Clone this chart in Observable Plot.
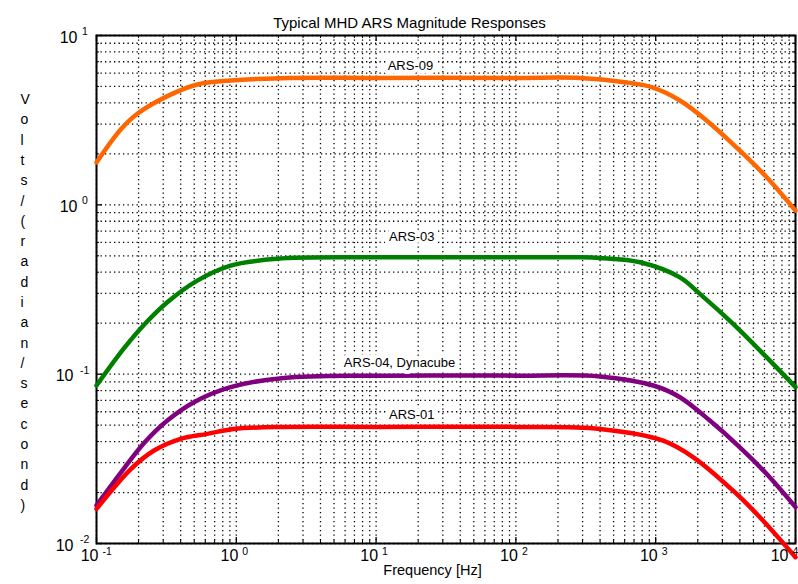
<!DOCTYPE html>
<html>
<head>
<meta charset="utf-8">
<script src="https://cdn.jsdelivr.net/npm/d3@7"></script>
<script src="https://cdn.jsdelivr.net/npm/@observablehq/plot@0.6"></script>
<style>
  html, body { margin: 0; padding: 0; background: #fff; }
  #chart svg { display: block; }
</style>
</head>
<body>
<div id="chart"></div>
<script>
// ---- Data ----
const title = "Typical MHD ARS Magnitude Responses";
const xLabel = "Frequency [Hz]";
const yLabel = "Volts/(radian/second)";

const seriesNames = ["ARS-09", "ARS-03", "ARS-04, Dynacube", "ARS-01"];
const seriesColors = ["#ff6600", "#008000", "#800080", "#ff0000"];

const ars09F = [0.1, 0.15, 0.196, 0.33, 0.526, 0.91, 2.07, 10, 100, 288, 600, 935, 1490, 2310, 4000, 6200, 10000];
const ars09V = [1.78, 2.8, 3.45, 4.43, 5.14, 5.42, 5.6, 5.62, 5.62, 5.62, 5.3, 4.95, 4.13, 3.15, 2.09, 1.46, 0.925];

const ars03F = [0.1, 0.157, 0.219, 0.321, 0.526, 0.91, 1.96, 10, 100, 300, 400, 772, 1490, 2070, 3580, 6200, 10000];
const ars03V = [0.0857, 0.142, 0.196, 0.266, 0.357, 0.438, 0.48, 0.49, 0.49, 0.49, 0.485, 0.458, 0.373, 0.298, 0.198, 0.126, 0.0838];

const ars04F = [0.1, 0.157, 0.219, 0.321, 0.498, 0.91, 2.19, 10, 100, 400, 961, 1490, 2440, 4000, 6200, 10000];
const ars04V = [0.0168, 0.0277, 0.0392, 0.0532, 0.0683, 0.0838, 0.095, 0.098, 0.098, 0.097, 0.0857, 0.0731, 0.0532, 0.037, 0.0258, 0.0164];

const ars01F = [0.1, 0.176, 0.258, 0.4, 0.62, 0.96, 2.19, 10, 100, 400, 1130, 1860, 3580, 5560, 10000];
const ars01V = [0.016, 0.0275, 0.0354, 0.0415, 0.0444, 0.0475, 0.0488, 0.0488, 0.0488, 0.0475, 0.0405, 0.0323, 0.0205, 0.0143, 0.0083];

// curve label anchors (data coordinates)
const labelF = [17.6, 18, 14.7, 18];
const labelV = [6.65, 0.644, 0.116, 0.0577];

// tick labels
const xTickValues = [0.1, 1, 10, 100, 1000, 10000];
const xTickExps = ["-1", "0", "1", "2", "3", "4"];
const yTickValues = [0.01, 0.1, 1, 10];
const yTickExps = ["-2", "-1", "0", "1"];

// ---- Build tables ----
const allF = [ars09F, ars03F, ars04F, ars01F];
const allV = [ars09V, ars03V, ars04V, ars01V];
const curves = [];
allF.forEach((fs, s) => fs.forEach((f, i) => curves.push({series: seriesNames[s], f, v: allV[s][i]})));
const labels = seriesNames.map((name, i) => ({name, f: labelF[i], v: labelV[i]}));

function logGrid(lo, hi) {
  const out = [];
  for (let e = lo; e < hi; e++) for (let m = 1; m <= 9; m++) out.push(+(m * Math.pow(10, e)).toPrecision(6));
  out.push(Math.pow(10, hi));
  return out;
}
const xGrid = logGrid(-1, 4);
const yGrid = logGrid(-2, 1);
const isMajor = v => Math.abs(Math.log10(v) - Math.round(Math.log10(v))) < 1e-9;
const xMajor = xGrid.filter(isMajor), xMinor = xGrid.filter(v => !isMajor(v));
const yMajor = yGrid.filter(isMajor), yMinor = yGrid.filter(v => !isMajor(v));

const xTicks = xTickValues.map((v, i) => ({v, e: xTickExps[i]}));
const xTicksIn = xTicks.slice(0, -1);
const xTicksEdge = xTicks.slice(-1);
const yTicks = yTickValues.map((v, i) => ({v, e: yTickExps[i]}));
const yTicksPos = yTicks.filter(d => !d.e.startsWith("-"));
const yTicksNeg = yTicks.filter(d => d.e.startsWith("-"));

const W = 798, H = 584, ML = 96, MR = 3, MT = 35, MB = 41;
const FW = W - ML - MR, FH = H - MT - MB;
const font = "'Liberation Sans', Arial, Helvetica, sans-serif";
const dash = "1.3,3.2";
const majLen = 6, minLen = 3;

const chart = Plot.plot({
  width: W, height: H,
  marginLeft: ML, marginRight: MR, marginTop: MT, marginBottom: MB,
  x: {type: "log", domain: [0.1, 1e4], axis: null},
  y: {type: "log", domain: [0.01, 10], axis: null},
  color: {domain: seriesNames, range: seriesColors},
  style: {fontFamily: font, background: "#fff", overflow: "visible"},
  marks: [
    // dotted grid
    Plot.ruleX(xGrid, {x: d => d, stroke: "#000", strokeWidth: 1.3, strokeDasharray: dash}),
    Plot.ruleY(yGrid, {y: d => d, stroke: "#000", strokeWidth: 1.3, strokeDasharray: dash}),
    // inner ticks bottom/top
    Plot.ruleX(xMajor, {x: d => d, insetTop: FH - majLen, stroke: "#000", strokeWidth: 1.3}),
    Plot.ruleX(xMinor, {x: d => d, insetTop: FH - minLen, stroke: "#000", strokeWidth: 1}),
    Plot.ruleX(xMajor, {x: d => d, insetBottom: FH - majLen, stroke: "#000", strokeWidth: 1.3}),
    Plot.ruleX(xMinor, {x: d => d, insetBottom: FH - minLen, stroke: "#000", strokeWidth: 1}),
    // inner ticks left/right
    Plot.ruleY(yMajor, {y: d => d, insetRight: FW - majLen, stroke: "#000", strokeWidth: 1.3}),
    Plot.ruleY(yMinor, {y: d => d, insetRight: FW - minLen, stroke: "#000", strokeWidth: 1}),
    Plot.ruleY(yMajor, {y: d => d, insetLeft: FW - majLen, stroke: "#000", strokeWidth: 1.3}),
    Plot.ruleY(yMinor, {y: d => d, insetLeft: FW - minLen, stroke: "#000", strokeWidth: 1}),
    Plot.frame({stroke: "#000", strokeWidth: 2}),
    // curves
    Plot.line(curves, {x: "f", y: "v", z: "series", stroke: "series", strokeWidth: 4.5, curve: "catmull-rom",
      strokeLinejoin: "round"}),
    // curve labels with white box
    Plot.text(labels, {x: "f", y: "v", text: "name", fontSize: 13, fill: "#000",
      stroke: "#fff", strokeWidth: 8}),
    // x tick labels
    Plot.text(xTicksIn, {x: "v", text: () => "10", frameAnchor: "bottom", textAnchor: "end",
      dx: 2, dy: 17, fontSize: 16, fill: "#000"}),
    Plot.text(xTicksIn, {x: "v", text: "e", frameAnchor: "bottom", textAnchor: "start",
      dx: 6, dy: 11, fontSize: 10.5, fill: "#000"}),
    Plot.text(xTicksEdge, {x: "v", text: () => "10", frameAnchor: "bottom", textAnchor: "end",
      dx: -7, dy: 17, fontSize: 16, fill: "#000"}),
    Plot.text(xTicksEdge, {x: "v", text: "e", frameAnchor: "bottom", textAnchor: "start",
      dx: -3, dy: 11, fontSize: 10.5, fill: "#000"}),
    // y tick labels
    Plot.text(yTicksPos, {y: "v", text: () => "10", frameAnchor: "left", textAnchor: "end",
      dx: -19, dy: 2, fontSize: 16, fill: "#000"}),
    Plot.text(yTicksPos, {y: "v", text: "e", frameAnchor: "left", textAnchor: "start",
      dx: -14.5, dy: -4, fontSize: 10.5, fill: "#000"}),
    Plot.text(yTicksNeg, {y: "v", text: () => "10", frameAnchor: "left", textAnchor: "end",
      dx: -23, dy: 2, fontSize: 16, fill: "#000"}),
    Plot.text(yTicksNeg, {y: "v", text: "e", frameAnchor: "left", textAnchor: "start",
      dx: -16.5, dy: -4, fontSize: 10.5, fill: "#000"}),
    // title and axis labels
    Plot.text([title], {text: d => d, frameAnchor: "top", dx: -36.5, dy: -18, fontSize: 15, fill: "#000"}),
    Plot.text([xLabel], {text: d => d, frameAnchor: "bottom", dx: -13.5, dy: 31, fontSize: 14.5, fill: "#000"}),
    Plot.text([yLabel.split("").join("\n")], {text: d => d, frameAnchor: "left", dx: -76, dy: 11,
      fontSize: 14, lineHeight: 1.45, fill: "#000"})
  ]
});
document.getElementById("chart").appendChild(chart);
</script>
</body>
</html>
